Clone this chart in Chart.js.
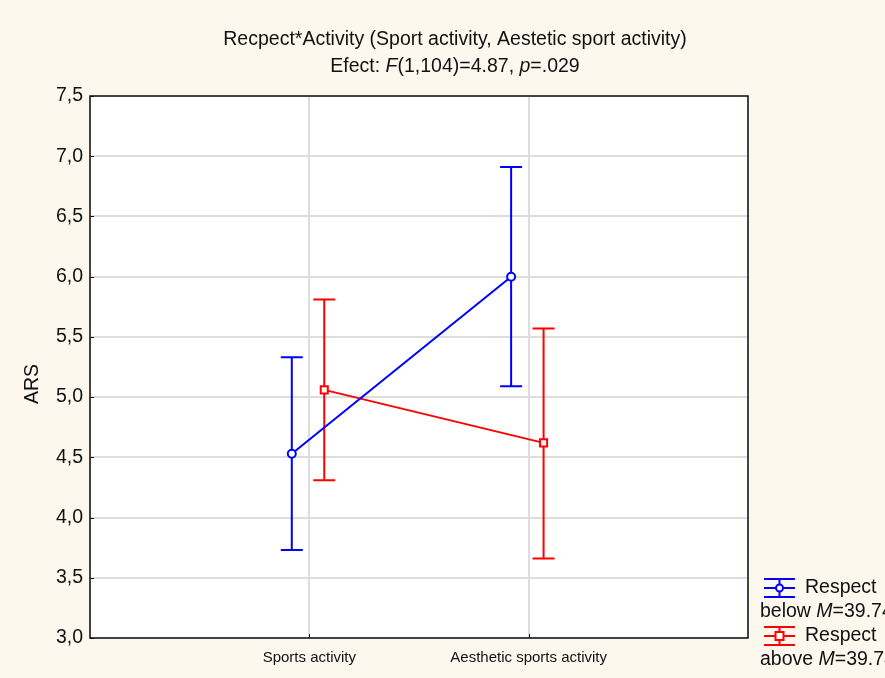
<!DOCTYPE html>
<html>
<head>
<meta charset="utf-8">
<script src="https://cdn.jsdelivr.net/npm/chart.js@4"></script>
<style>
  html, body { margin: 0; padding: 0; background: #fcf8ee; }
  #wrap { width: 885px; height: 678px; }
</style>
</head>
<body>
<div id="wrap"><canvas id="chart" width="885" height="678"></canvas></div>
<script>
// categories and values
const categories = ['Sports activity', 'Aesthetic sports activity'];
const belowMean  = [4.53, 6.00];
const belowUpper = [5.33, 6.91];
const belowLower = [3.73, 5.09];
const aboveMean  = [5.06, 4.62];
const aboveUpper = [5.81, 5.57];
const aboveLower = [4.31, 3.66];
const yMin = 3.0, yMax = 7.5, yStep = 0.5;

const BG = '#fcf8ee';
const FONT = '"Liberation Sans", Arial, Helvetica, sans-serif';
const BIG = 19.5;

// horizontal shift of each series around the category position
function points(mean, lo, hi, shift) {
  return mean.map((m, i) => ({ x: i + 1 + shift, y: m, lo: lo[i], hi: hi[i] }));
}

const decor = {
  id: 'decor',
  beforeDraw(chart) {
    const { ctx, chartArea: a } = chart;
    ctx.save();
    ctx.fillStyle = BG;
    ctx.fillRect(0, 0, chart.width, chart.height);
    ctx.fillStyle = '#fff';
    ctx.fillRect(a.left, a.top, a.right - a.left, a.bottom - a.top);
    ctx.restore();
  },
  beforeDatasetsDraw(chart) {
    const { ctx } = chart;
    const xs = chart.scales.x, ys = chart.scales.y;
    ctx.save();
    chart.data.datasets.forEach(ds => {
      ctx.strokeStyle = ds.borderColor;
      ctx.lineWidth = 2;
      ds.data.forEach(p => {
        const px = xs.getPixelForValue(p.x);
        const top = ys.getPixelForValue(p.hi), bot = ys.getPixelForValue(p.lo);
        ctx.beginPath();
        ctx.moveTo(px, top); ctx.lineTo(px, bot);
        ctx.moveTo(px - 11, top); ctx.lineTo(px + 11, top);
        ctx.moveTo(px - 11, bot); ctx.lineTo(px + 11, bot);
        ctx.stroke();
      });
    });
    ctx.restore();
  },
  afterDraw(chart) {
    const { ctx, chartArea: a } = chart;
    const xs = chart.scales.x, ys = chart.scales.y;
    ctx.save();
    // plot frame and inner ticks
    ctx.strokeStyle = '#111';
    ctx.lineWidth = 1.5;
    ctx.strokeRect(a.left, a.top, a.right - a.left, a.bottom - a.top);
    ctx.lineWidth = 1;
    ctx.beginPath();
    for (let v = yMin; v <= yMax + 1e-9; v += yStep) {
      const py = Math.round(ys.getPixelForValue(v)) + 0.5;
      ctx.moveTo(a.left, py); ctx.lineTo(a.left + 4, py);
    }
    categories.forEach((c, i) => {
      const px = Math.round(xs.getPixelForValue(i + 1)) + 0.5;
      ctx.moveTo(px, a.bottom); ctx.lineTo(px, a.bottom - 4);
    });
    ctx.stroke();

    // titles with italic parts
    ctx.fillStyle = '#111';
    ctx.textBaseline = 'middle';
    const cx = 455;
    ctx.font = BIG + 'px ' + FONT;
    ctx.textAlign = 'center';
    ctx.fillText('Recpect*Activity (Sport activity, Aestetic sport activity)', cx, 40);
    drawRich(ctx, [['Efect: ', 0], ['F', 1], ['(1,104)=4.87, ', 0], ['p', 1], ['=.029', 0]], cx, 67, BIG, true);

    // y axis title
    ctx.save();
    ctx.translate(33, 384);
    ctx.rotate(-Math.PI / 2);
    ctx.textAlign = 'center';
    ctx.font = BIG + 'px ' + FONT;
    ctx.fillText('ARS', 0, 0);
    ctx.restore();

    // legend
    const items = [
      { color: '#0000ff', shape: 'circle', y: 588, word: 'below ' },
      { color: '#ff0000', shape: 'rect', y: 636, word: 'above ' }
    ];
    items.forEach(it => {
      ctx.strokeStyle = it.color;
      ctx.lineWidth = 2;
      const l = 764, r = 795, lx = (l + r) / 2;
      ctx.beginPath();
      ctx.moveTo(l, it.y); ctx.lineTo(r, it.y);
      ctx.moveTo(lx, it.y - 9); ctx.lineTo(lx, it.y + 9);
      ctx.moveTo(l, it.y - 9); ctx.lineTo(r, it.y - 9);
      ctx.moveTo(l, it.y + 9); ctx.lineTo(r, it.y + 9);
      ctx.stroke();
      ctx.fillStyle = '#fff';
      ctx.beginPath();
      if (it.shape === 'circle') ctx.arc(lx, it.y, 3.5, 0, Math.PI * 2);
      else ctx.rect(lx - 4, it.y - 4, 8, 8);
      ctx.fill(); ctx.stroke();
      ctx.fillStyle = '#111';
      ctx.font = BIG + 'px ' + FONT;
      ctx.textAlign = 'left';
      ctx.fillText('Respect', 805, it.y);
      drawRich(ctx, [[it.word, 0], ['M', 1], ['=39.74', 0]], 760, it.y + 24, BIG, false);
    });
    ctx.restore();
  }
};

function drawRich(ctx, parts, x, y, size, centered) {
  const fonts = parts.map(p => (p[1] ? 'italic ' : '') + size + 'px ' + FONT);
  let total = 0;
  parts.forEach((p, i) => { ctx.font = fonts[i]; total += ctx.measureText(p[0]).width; });
  let cur = centered ? x - total / 2 : x;
  ctx.textAlign = 'left';
  parts.forEach((p, i) => {
    ctx.font = fonts[i];
    ctx.fillText(p[0], cur, y);
    cur += ctx.measureText(p[0]).width;
  });
}

new Chart(document.getElementById('chart'), {
  type: 'scatter',
  data: {
    datasets: [
      {
        label: 'Respect below M=39.74',
        data: points(belowMean, belowLower, belowUpper, -0.08),
        showLine: true,
        borderColor: '#0000ff',
        backgroundColor: '#ffffff',
        borderWidth: 2,
        pointStyle: 'circle',
        pointRadius: 4,
        pointBorderWidth: 2
      },
      {
        label: 'Respect above M=39.74',
        data: points(aboveMean, aboveLower, aboveUpper, 0.068),
        showLine: true,
        borderColor: '#ff0000',
        backgroundColor: '#ffffff',
        borderWidth: 2,
        pointStyle: 'rect',
        pointRadius: 5,
        pointBorderWidth: 2
      }
    ]
  },
  options: {
    responsive: false,
    animation: false,
    layout: { padding: { top: 96, right: 137, left: 0, bottom: 0 } },
    plugins: {
      legend: { display: false },
      title: { display: false },
      tooltip: { enabled: false }
    },
    scales: {
      x: {
        type: 'linear',
        min: 0,
        max: categories.length + 1,
        afterBuildTicks: s => { s.ticks = [0, 1, 2, 3].map(v => ({ value: v })); },
        afterFit: s => { s.height = 40; },
        grid: { color: '#dddddd', lineWidth: 2, drawTicks: false },
        border: { display: false },
        ticks: {
          padding: 11,
          color: '#111',
          font: { family: FONT, size: 15 },
          maxRotation: 0,
          autoSkip: false,
          callback: v => categories[v - 1] || ''
        }
      },
      y: {
        min: yMin,
        max: yMax,
        afterFit: s => { s.width = 90; },
        grid: { color: '#dddddd', lineWidth: 2, drawTicks: false },
        border: { display: false },
        ticks: {
          stepSize: yStep,
          padding: 7,
          color: '#111',
          font: { family: FONT, size: BIG },
          callback: v => v.toFixed(1).replace('.', ',')
        }
      }
    }
  },
  plugins: [decor]
});
</script>
</body>
</html>
